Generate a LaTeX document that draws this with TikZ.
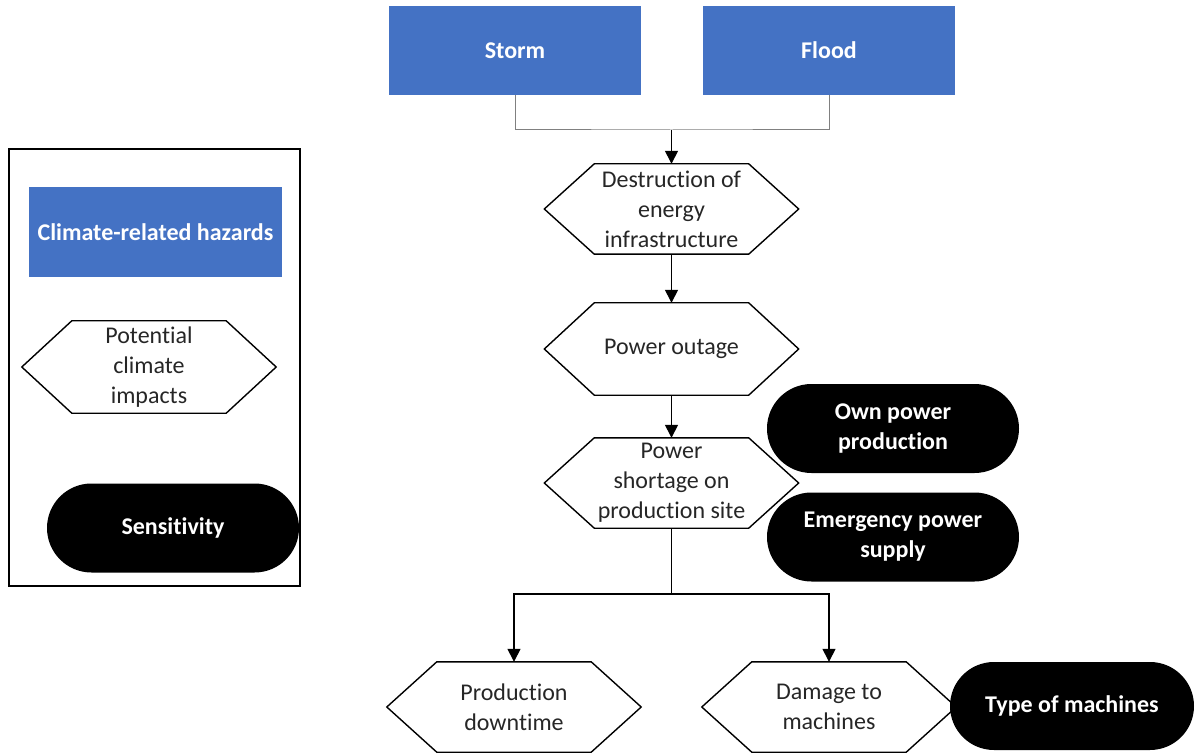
\documentclass[tikz,border=0pt]{standalone}
\usepackage{fontspec}
\setmainfont{Carlito}[RawFeature=-liga]
\usetikzlibrary{shapes.misc,arrows.meta}
\definecolor{hazblue}{HTML}{4472C4}
\definecolor{txtgray}{HTML}{262626}
\begin{document}
\begin{tikzpicture}[x=1pt,y=-1pt,
  every node/.style={font=\fontsize{24}{30}\selectfont},
  hazard/.style={rectangle, fill=hazblue, text=white, font=\fontsize{24}{30}\selectfont\bfseries, minimum width=252pt, minimum height=89pt, inner sep=0pt, align=center},
  impact/.style={rectangle, draw=none, text=txtgray, minimum width=254pt, minimum height=90pt, inner sep=0pt, align=center},
  sens/.style={rounded rectangle, fill=black, text=white, font=\fontsize{24}{30}\selectfont\bfseries, minimum width=252pt, minimum height=89pt, inner sep=0pt, align=center},
  hexline/.style={draw=black, line width=1.4pt},
  arr/.style={line width=1.4pt, -{Triangle[width=13pt,length=13pt]}},
  joinline/.style={draw=gray, line width=1pt}]
\useasboundingbox (0,0) rectangle (1195,754);
% legend
\node[draw=black, line width=1.4pt, minimum width=291pt, minimum height=437pt, inner sep=0pt] (legend) at (154.5,367.5) {};
\node[hazard, minimum width=253pt, minimum height=90pt] (lhaz) at (155.5,232) {Climate-related hazards};
\node[impact, minimum height=92pt] (limp) at (149,367) {Potential\\climate\\impacts};
\node[sens] (lsens) at (173,528) {Sensitivity};
% hazards
\node[hazard] (storm) at (515,50.5) {Storm};
\node[hazard] (flood) at (829,50.5) {Flood};
% impacts
\node[impact] (h1) at (671.5,209) {Destruction of\\energy\\infrastructure};
\node[impact, minimum height=92pt] (h2) at (671.5,349) {Power outage};
\node[impact] (h3) at (671.5,483) {Power\\shortage on\\production site};
\node[impact] (h4) at (514,707) {Production\\downtime};
\node[impact] (h5) at (829,707) {Damage to\\machines};
% sensitivities
\node[sens] (own) at (893,428.5) {Own power\\production};
\node[sens] (emer) at (893,537) {Emergency power\\supply};
% hexagons
\foreach \n in {limp,h1,h2,h3,h4,h5}{
  \draw[hexline, line join=miter] (\n.west) -- ([xshift=50pt]\n.north west) -- ([xshift=-50pt]\n.north east) -- (\n.east) -- ([xshift=-50pt]\n.south east) -- ([xshift=50pt]\n.south west) -- cycle;
}
\node[sens, minimum width=244pt, minimum height=88pt] (type) at (1072,706) {Type of machines};
% connectors
\coordinate (j1) at (671.5,130);
\coordinate (j2) at (671.5,594);
\draw[joinline] (storm.south) |- (j1) -| (flood.south);
\draw[arr] (j1) -- (h1.north);
\draw[arr] (h1.south) -- (h2.north);
\draw[arr] (h2.south) -- (h3.north);
\draw[line width=1.4pt] (h3.south) -- (j2);
\draw[arr] (j2) -| (h4.north);
\draw[arr] (j2) -| (h5.north);
\end{tikzpicture}
\end{document}
